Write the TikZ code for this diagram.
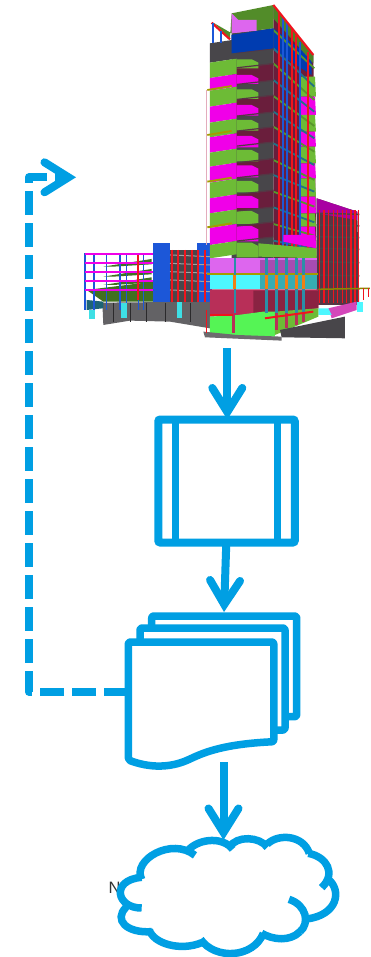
\documentclass[tikz,border=0pt]{standalone}
\usepackage{fontspec}
\setsansfont{Liberation Sans}
\usetikzlibrary{arrows.meta}

\definecolor{flowblue}{HTML}{009FE3}
\definecolor{leafgreen}{HTML}{6DBB36}
\definecolor{hotpink}{HTML}{F000E8}
\definecolor{slab}{HTML}{48464A}
\definecolor{wine}{HTML}{6A1E3C}
\definecolor{crimson}{HTML}{B82F58}
\definecolor{aqua}{HTML}{4DF7FF}
\definecolor{lilac}{HTML}{DD66EE}
\definecolor{limeblock}{HTML}{55F455}
\definecolor{steelblue}{HTML}{1C57D8}
\definecolor{navy}{HTML}{003CB0}
\definecolor{redsteel}{HTML}{F0141E}
\definecolor{beamteal}{HTML}{2A8FA8}
\definecolor{orangepipe}{HTML}{F07F13}

\tikzset{
  flowline/.style={flowblue, line width=8pt,
    -{Straight Barb[length=24pt, width=30pt, line cap=round, line join=miter]}},
  blueline/.style={draw=flowblue, line width=7.5pt, line join=round},
  sheet/.style={blueline, fill=white, rounded corners=2pt},
}

\begin{document}
\begin{tikzpicture}[x=1pt, y=-1pt]
  \useasboundingbox (0,0) rectangle (370,957);
  \fill[white] (0,0) rectangle (370,957);

  % 1. Building model, in units of a third of a pixel
  \begin{scope}[shift={(70,0)}, x=.3333pt, y=-.3333pt]
    % right wing
    \fill[slab!60!wine] (740,595) -- (862,635) -- (868,915) -- (740,915) -- cycle;
    \fill[hotpink!70!black] (740,595) -- (862,635) -- (862,660) -- (740,640) -- cycle;
    \foreach \yy in {640,675,710,745,785,825,865}
      \draw[slab, line width=1.5pt] (740,\yy) -- (868,\yy+3);
    \foreach \xx in {748,762,775,790,803,817,830,843,855,865}
      \draw[redsteel, line width=1.6pt] (\xx,630) -- (\xx,910);
    \fill[lilac!70!purple] (775,925) -- (860,905) -- (860,930) -- (785,955) -- cycle;
    \fill[aqua] (745,925) -- (775,925) -- (785,945) -- (745,945) -- cycle;
    \fill[aqua] (860,905) rectangle (880,935);
    \draw[olive, line width=1.5pt] (745,868) -- (900,865);
    \draw[redsteel, line width=1.5pt] (880,865) -- (880,900);
    \draw[redsteel, line width=1.5pt] (895,865) -- (895,890);

    % low block, plinth wall first
    \fill[slab!85!white] (97,908) -- (420,905) -- (420,985) -- (300,965) -- (180,962) -- (100,975) -- cycle;
    \foreach \xx in {130,180,230,285,360}
      \draw[slab!60!black, line width=.5pt] (\xx,908) -- (\xx,965);
    \fill[beamteal!70!black] (50,900) -- (100,905) -- (100,925) -- (50,930) -- cycle;
    \fill[leafgreen!60!black] (50,870) -- (250,845) -- (250,905) -- (100,905) -- cycle;
    \foreach \yy in {785,815,840}
      \fill[leafgreen!60!black] (100,\yy+15) -- (245,\yy-8) -- (245,\yy+8) -- (130,\yy+15) -- cycle;
    \foreach \xx in {45,72,110,150,170,205,220}
      \draw[steelblue, line width=1.6pt] (\xx,760) -- (\xx,930);
    \foreach \yy in {762,790,815,842,870}
      \draw[hotpink, line width=2pt] (45,\yy) -- (250,\yy);
    \draw[redsteel, line width=2pt] (205,765) -- (205,900);
    \fill[aqua!80!teal] (152,908) rectangle (170,955);
    \fill[aqua!80!teal] (320,905) rectangle (335,955);
    \fill[aqua!80!teal] (58,930) rectangle (75,958);
    \fill[slab] (300,750) rectangle (420,905);
    \fill[steelblue] (380,730) rectangle (425,905);
    \fill[steelblue] (250,730) rectangle (300,905);
    \foreach \yy in {765,790,815,840,870}
      \draw[slab!50!white, line width=1pt] (300,\yy) -- (420,\yy+5);
    \foreach \xx in {305,325,345,365,385,405}
      \draw[redsteel, line width=1.7pt] (\xx,750) -- (\xx,905);

    % tower, right face
    \fill[wine] (610,15) -- (730,165) -- (740,795) -- (610,775) -- cycle;
    \fill[navy] (610,85) -- (725,175) -- (725,225) -- (610,150) -- cycle;
    \fill[leafgreen!70!black] (610,15) -- (730,165) -- (730,190) -- (610,55) -- cycle;
    \foreach \ya/\yb/\col in {
        230/290/leafgreen,290/345/hotpink,345/395/leafgreen,395/440/hotpink,
        440/490/leafgreen,490/535/hotpink,535/590/leafgreen,590/640/hotpink,
        640/680/leafgreen,680/735/hotpink}
      \fill[\col] (690,\ya) -- (735,\ya) -- (738,\yb) -- (690,\yb) -- cycle;
    \foreach \ff/\dd/\col in {
        90/115/leafgreen,145/115/beamteal,190/110/leafgreen,240/95/beamteal,
        288/90/leafgreen,335/80/beamteal,380/75/leafgreen,430/65/beamteal,
        480/60/leafgreen,525/50/beamteal,575/45/leafgreen,622/45/beamteal,
        672/35/leafgreen,722/25/beamteal}
      \draw[\col!80!black, line width=1.8pt] (610,\ff) -- (733,\ff+\dd);
    \foreach \xx/\yy/\col in {
        640/55/steelblue,665/85/redsteel,690/125/steelblue,715/155/redsteel,
        628/40/redsteel,652/70/steelblue,678/105/redsteel}
      \draw[\col, line width=2.2pt] (\xx,\yy) -- (\xx,760);

    % tower, front face
    \fill[slab] (485,100) -- (610,85) -- (610,775) -- (485,775) -- cycle;
    \foreach \ya/\yb/\col in {
        105/160/navy,205/255/wine,300/350/wine,395/440/wine,490/535/wine,
        585/635/wine,680/725/wine}
      \fill[\col] (485,\ya) -- (610,\ya-15) -- (610,\yb-15) -- (485,\yb) -- cycle;
    \foreach \ya/\yb/\col in {
        178/205/leafgreen,225/252/hotpink,268/297/leafgreen,315/347/hotpink,
        360/392/leafgreen,408/442/hotpink,450/484/leafgreen,496/532/hotpink,
        543/577/leafgreen,588/624/hotpink,633/672/leafgreen,678/724/hotpink,
        728/772/leafgreen}
      \fill[\col] (500,\ya) -- (545,\ya) -- (565,\ya+10) -- (565,\yb) -- (500,\yb) -- cycle;
    \foreach \yy in {160,205,255,300,350,395,440,490,535,585,635,680,725}
      \draw[slab!60!wine, line width=1.2pt] (485,\yy) -- (610,\yy-14);
    \fill[leafgreen] (565,730) -- (740,745) -- (740,775) -- (565,770) -- cycle;
    \fill[hotpink] (640,705) -- (735,705) -- (738,745) -- (640,725) -- cycle;

    % tower, left face
    \foreach \ya/\yb/\col in {
        130/188/slab,188/234/leafgreen,234/272/hotpink,272/320/leafgreen,
        320/368/hotpink,368/412/leafgreen,412/458/hotpink,458/500/leafgreen,
        500/548/hotpink,548/595/leafgreen,595/640/hotpink,640/684/leafgreen,
        684/735/hotpink,735/775/leafgreen}
      \fill[\col] (420,\ya) -- (500,\ya-12) -- (500,\yb-12) -- (420,\yb) -- cycle;
    \draw[crimson!40!white, line width=1.2pt] (409,270) -- (409,735);
    \foreach \yy in {270,405,545,682}
      \draw[olive!80!yellow, line width=1.8pt] (412,\yy) -- (485,\yy-12);

    % tower, lower storeys
    \fill[lilac] (420,775) rectangle (740,822);
    \fill[lilac!75!black] (570,780) rectangle (740,822);
    \fill[aqua] (420,825) rectangle (740,868);
    \fill[aqua!70!black] (570,825) rectangle (740,868);
    \fill[crimson] (420,868) -- (745,868) -- (745,925) -- (570,945) -- (420,950) -- cycle;
    \fill[crimson!75!black] (550,872) -- (745,872) -- (745,925) -- (550,945) -- cycle;
    \fill[limeblock] (420,950) -- (505,945) -- (580,935) -- (615,935) -- (615,1010) -- (420,1005) -- cycle;
    \fill[leafgreen] (615,935) -- (745,925) -- (745,950) -- (615,1005) -- cycle;
    \fill[slab] (635,1012) -- (630,990) -- (825,950) -- (825,1015) -- cycle;
    \fill[slab!80!white] (400,995) -- (500,1005) -- (635,1010) -- (635,1022) -- (405,1012) -- cycle;
    \draw[olive!80!yellow, line width=1.5pt] (412,822) -- (745,822);
    \foreach \xx in {495,590,620,650,680,700}
      \draw[orangepipe, line width=3pt] (\xx,825) -- (\xx,868);
    \foreach \xx in {495,590,620,650,680,700}
      \draw[beamteal, line width=2.5pt] (\xx,775) -- (\xx,825) (\xx,868) -- (\xx,940);
    \foreach \xx/\yy in {490/1000,620/990,650/985,680/975,700/965}
      \draw[crimson, line width=3pt] (\xx,940) -- (\xx,\yy);
    \draw[redsteel, line width=1.5pt] (420,945) -- (490,945);
    \draw[redsteel, line width=2pt] (585,955) -- (730,935);
    \draw[redsteel, line width=1.5pt] (410,930) -- (410,1000);

    % tower, roof
    \fill[leafgreen!75!black] (430,68) -- (480,115) -- (485,40) -- (610,15) -- (610,85) -- (485,100) -- cycle;
    \fill[lilac] (485,40) -- (505,60) -- (560,60) -- (560,92) -- (485,100) -- cycle;
    \fill[navy] (485,105) -- (610,85) -- (610,145) -- (485,160) -- cycle;
    \draw[redsteel, line width=2.2pt] (610,15) -- (730,165) (425,68) -- (480,118);
    \draw[steelblue, line width=2pt] (430,70) -- (430,128) (452,92) -- (452,128);
  \end{scope}

  % 2. Flow chart shapes
  \node[draw=flowblue, line width=8pt, rounded corners=2pt, outer sep=0pt, minimum width=136.5pt, minimum height=123pt, inner sep=0pt] (process) at (226.5,481) {};
  \draw[blueline] (175.3,481 |- process.north) -- (175.3,481 |- process.south);
  \draw[blueline] (277.7,481 |- process.north) -- (277.7,481 |- process.south);

  \draw[sheet] (151.7,640) -- (151.7,616) -- (296.7,616) -- (296.7,716.7) -- (280,716.7);
  \draw[sheet] (140,650) -- (140,628) -- (285,628) -- (285,730) -- (270,730);
  \draw[sheet] (128.3,642) -- (273.8,642) -- (273.8,741.7)
    .. controls (225,744) and (205,752) .. (190,759)
    .. controls (170,768) and (150,768) .. (128.3,760) -- cycle;

  % the label sits under the cloud
  \node[anchor=west, inner sep=0pt, font=\sffamily\fontsize{16.5}{18}\selectfont, text=black!80] (cloudlabel) at (108.5,888) {N};

  % 3. Cloud, outline in single lobes
  \begin{scope}[shift={(90,820)}, x=.3333pt, y=-.3333pt]
    \fill[white] (150,172) -- (240,85) -- (365,62) -- (590,52) -- (720,130) -- (735,220) -- (650,295)
      -- (580,365) -- (410,405) -- (270,385) -- (175,340) -- (100,320) -- (105,262) -- (85,215) -- cycle;
    \draw[blueline, line join=miter]
      (155,178) .. controls (125,120) and (245,50) .. (315,106)
      (297,88) .. controls (330,55) and (400,50) .. (428,88)
      (418,82) .. controls (440,45) and (510,50) .. (532,82)
      (532,72) .. controls (565,40) and (640,45) .. (658,100)
      (655,100) .. controls (710,110) and (740,160) .. (695,203)
      (715,178) .. controls (755,210) and (745,285) .. (650,297)
      (597,238) .. controls (650,255) and (660,310) .. (630,335)
      (630,335) .. controls (600,365) and (550,360) .. (515,340)
      (520,340) .. controls (490,415) and (375,420) .. (332,358)
      (335,368) .. controls (270,395) and (190,370) .. (178,330)
      (185,335) .. controls (110,340) and (70,300) .. (108,262)
      (155,264) .. controls (80,265) and (60,180) .. (155,172);
  \end{scope}
  \node[inner sep=0pt, outer sep=0pt, minimum width=210pt, minimum height=106pt] (cloud) at (223.5,893) {};

  % 4. Connectors
  \coordinate (towerfoot) at (227.3,348);
  \coordinate (docsin) at (224,612);
  \coordinate (docsout) at (223.5,762);
  \coordinate (docsleft) at (128,691.7);
  \coordinate (modelin) at (76,177.3);

  \draw[flowline] (towerfoot) -- (process.north -| towerfoot);
  \draw[flowline] (process.south -| 226.3,0) -- (docsin);
  \draw[flowline] (docsout) -- (cloud.north);
  \draw[flowline, dash pattern=on 24pt off 8pt, line join=round] (docsleft) -- (28.8,691.7) -- (28.8,177.3) -- (modelin);
\end{tikzpicture}
\end{document}
